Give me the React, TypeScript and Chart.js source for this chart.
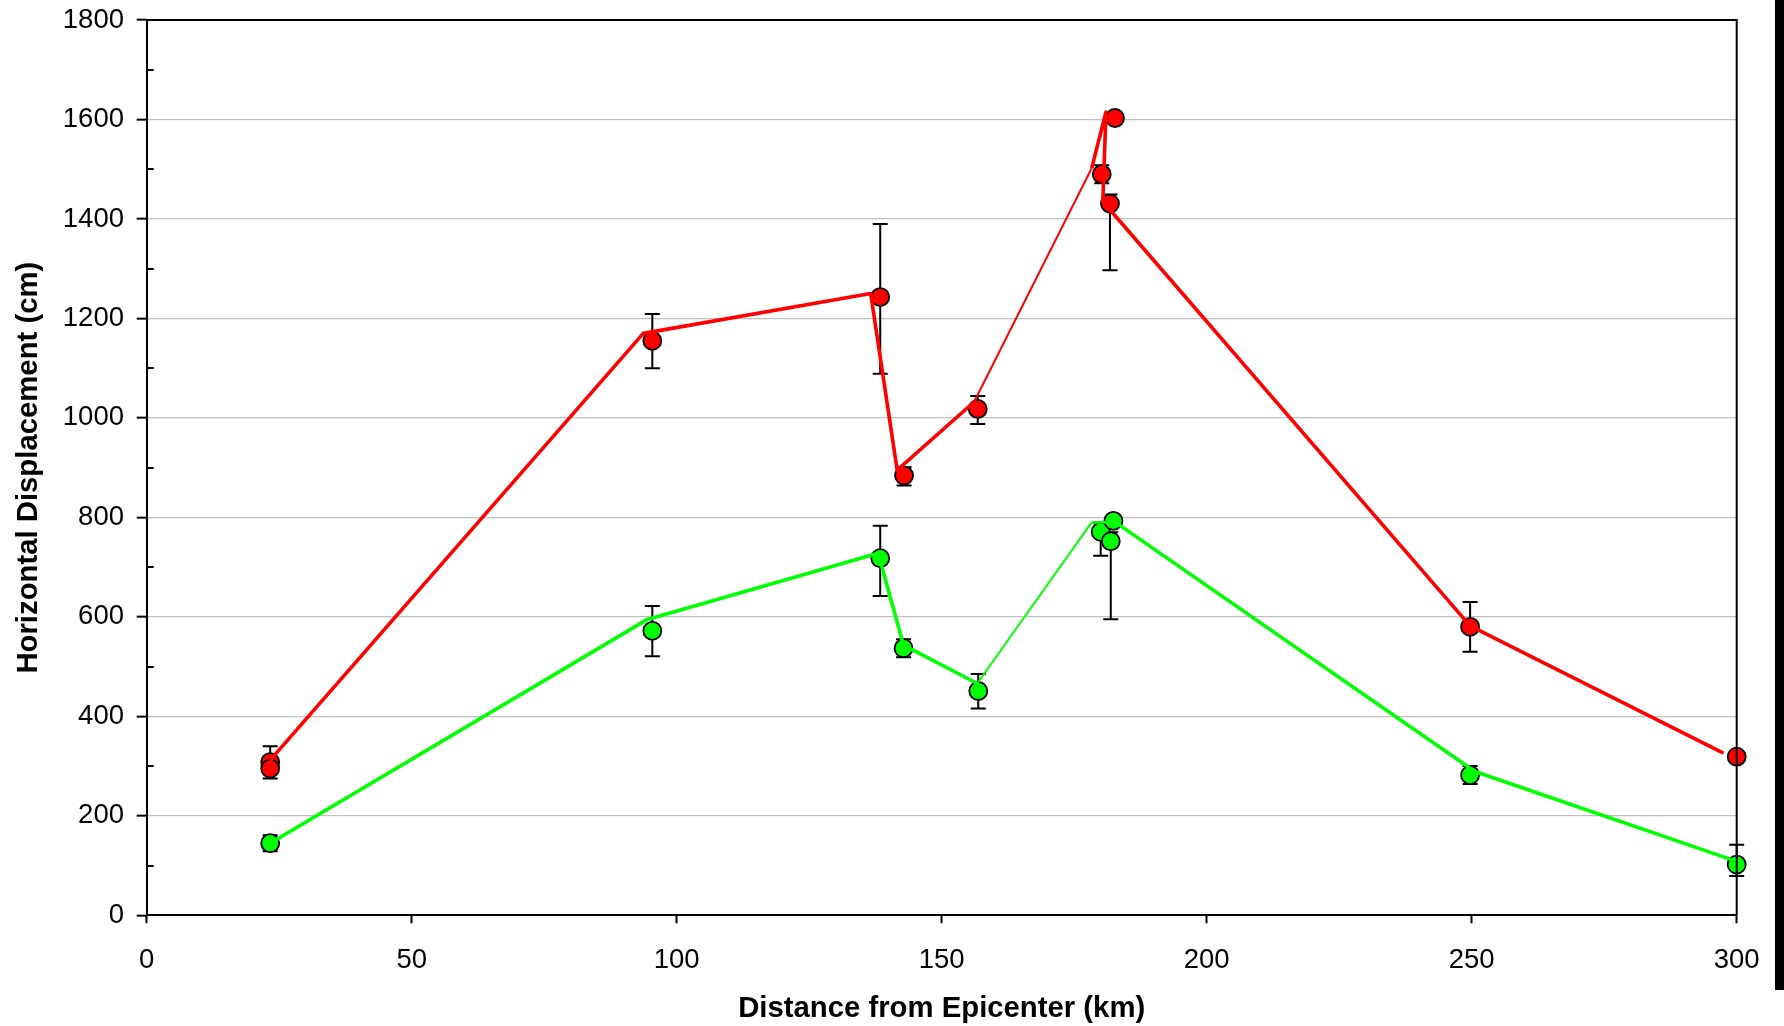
import React, { useEffect, useRef } from "react";
import { Chart, registerables } from "chart.js";

Chart.register(...registerables);

// ---------- data ----------
const xTickValues = [0, 50, 100, 150, 200, 250, 300];
const yTickValues = [0, 200, 400, 600, 800, 1000, 1200, 1400, 1600, 1800];
const yMinorTickValues = [100, 300, 500, 700, 900, 1100, 1300, 1500, 1700];

const xTitle = "Distance from Epicenter (km)";
const yTitle = "Horizontal Displacement (cm)";

// measured points (markers with error bars)
const redPointX = [23.3, 23.3, 95.4, 138.4, 142.9, 156.8, 180.2, 181.75, 182.7, 249.7, 300];
const redPointY = [308, 295, 1155, 1243, 884, 1018, 1490, 1431, 1603, 580, 319];
const redErrPlus = [32, 0, 54, 147, 17, 26, 18, 18, 0, 50, 0];
const redErrMinus = [33, 0, 55, 154, 20, 30, 18, 134, 0, 50, 0];

const greenPointX = [23.3, 95.4, 138.4, 142.8, 156.9, 180.0, 181.9, 182.4, 249.7, 300];
const greenPointY = [145, 572, 718, 537, 451, 771, 752, 793, 282, 102];
const greenErrPlus = [16, 50, 65, 18, 34, 18, 18, 0, 18, 40];
const greenErrMinus = [16, 51, 76, 18, 35, 48, 157, 0, 18, 23];

// connecting lines
const redLineX = [23.3, 93.7, 136.6, 141.6, 156.1, 178.3, 181.0, 180.4, 249.7, 297.5];
const redLineY = [312, 1170, 1250, 895, 1032, 1502, 1615, 1435, 582, 326];
const greenLineX = [23.3, 94.3, 138.0, 142.8, 156.7, 178.3, 182.8, 250.6, 299.3];
const greenLineY = [145, 594, 728, 543, 466, 790, 790, 289, 111];

const RED = "#FF0000";
const GREEN = "#00FF00";
const FONT = "'Liberation Sans', Arial, Helvetica, sans-serif";

const W = 1784;
const H = 1026;
const PLOT_LEFT = 146.7;
const PLOT_RIGHT = 1736.7;
const PLOT_TOP = 20;
const PLOT_BOTTOM = 915.3;

const toXY = (xs: number[], ys: number[]) => xs.map((x, i) => ({ x, y: ys[i] }));

const errorSets = [
  { xs: redPointX, ys: redPointY, plus: redErrPlus, minus: redErrMinus },
  { xs: greenPointX, ys: greenPointY, plus: greenErrPlus, minus: greenErrMinus },
];

const decorPlugin = {
  id: "decor",
  beforeDatasetsDraw(chart: any) {
    const { ctx } = chart;
    const xs = chart.scales.x;
    const ys = chart.scales.y;
    ctx.save();
    ctx.strokeStyle = "#000";
    ctx.lineWidth = 2;
    const cap = 7.5;
    errorSets.forEach((s) => {
      s.xs.forEach((xv, i) => {
        if (s.plus[i] <= 0 && s.minus[i] <= 0) return;
        const px = xs.getPixelForValue(xv);
        const pTop = ys.getPixelForValue(s.ys[i] + s.plus[i]);
        const pBot = ys.getPixelForValue(s.ys[i] - s.minus[i]);
        ctx.beginPath();
        ctx.moveTo(px, pTop);
        ctx.lineTo(px, pBot);
        if (s.plus[i] > 0) {
          ctx.moveTo(px - cap, pTop);
          ctx.lineTo(px + cap, pTop);
        }
        if (s.minus[i] > 0) {
          ctx.moveTo(px - cap, pBot);
          ctx.lineTo(px + cap, pBot);
        }
        ctx.stroke();
      });
    });
    ctx.restore();
  },
  afterDraw(chart: any) {
    const { ctx, chartArea } = chart;
    const ys = chart.scales.y;
    ctx.save();
    // minor ticks (inward)
    ctx.strokeStyle = "#000";
    ctx.lineWidth = 2;
    ctx.beginPath();
    yMinorTickValues.forEach((v) => {
      const py = Math.round(ys.getPixelForValue(v));
      ctx.moveTo(chartArea.left, py);
      ctx.lineTo(chartArea.left + 7, py);
    });
    ctx.stroke();
    // top and right frame
    ctx.beginPath();
    ctx.moveTo(chartArea.left, chartArea.top);
    ctx.lineTo(chartArea.right, chartArea.top);
    ctx.lineTo(chartArea.right, chartArea.bottom);
    ctx.stroke();
    // dark strip at the right edge of the picture
    ctx.fillStyle = "#000";
    ctx.fillRect(1775, 0, W - 1775, 990);
    ctx.restore();
  },
};

export default function App() {
  const canvasRef = useRef<HTMLCanvasElement | null>(null);

  useEffect(() => {
    const canvas = canvasRef.current;
    if (!canvas) return;
    const chart = new Chart(canvas, {
      type: "scatter",
      data: {
        datasets: [
          {
            label: "red line",
            data: toXY(redLineX, redLineY),
            showLine: true,
            borderColor: RED,
            backgroundColor: RED,
            borderWidth: 3.6,
            borderJoinStyle: "round",
            pointRadius: 0,
            pointHoverRadius: 0,
            clip: false,
            order: 0,
            segment: {
              borderWidth: (c: any) => (c.p0DataIndex === 4 ? 2 : 3.6),
            },
          } as any,
          {
            label: "green line",
            data: toXY(greenLineX, greenLineY),
            showLine: true,
            borderColor: GREEN,
            backgroundColor: GREEN,
            borderWidth: 3.6,
            borderJoinStyle: "round",
            pointRadius: 0,
            pointHoverRadius: 0,
            clip: false,
            order: 0,
            segment: {
              borderWidth: (c: any) => (c.p0DataIndex === 4 ? 2 : c.p0DataIndex === 5 ? 2.6 : 3.6),
            },
          } as any,
          {
            label: "red points",
            data: toXY(redPointX, redPointY),
            showLine: false,
            pointRadius: 9,
            pointHoverRadius: 9,
            pointBackgroundColor: RED,
            pointBorderColor: "#000",
            pointBorderWidth: 1.8,
            clip: false,
            order: 1,
          } as any,
          {
            label: "green points",
            data: toXY(greenPointX, greenPointY),
            showLine: false,
            pointRadius: 9,
            pointHoverRadius: 9,
            pointBackgroundColor: GREEN,
            pointBorderColor: "#000",
            pointBorderWidth: 1.8,
            clip: false,
            order: 1,
          } as any,
        ],
      },
      options: {
        responsive: false,
        animation: false,
        events: [],
        layout: {
          padding: { left: 0, top: PLOT_TOP, right: W - PLOT_RIGHT, bottom: 0 },
        },
        plugins: {
          legend: { display: false },
          tooltip: { enabled: false },
        },
        scales: {
          x: {
            type: "linear",
            min: 0,
            max: 300,
            afterFit: (s: any) => {
              s.height = H - PLOT_BOTTOM;
              s.paddingLeft = 0;
              s.paddingRight = 0;
            },
            afterBuildTicks: (s: any) => {
              s.ticks = xTickValues.map((v) => ({ value: v }));
            },
            ticks: {
              autoSkip: false,
              maxRotation: 0,
              color: "#000",
              padding: 21,
              font: { family: FONT, size: 27.5 },
              callback: (v: any) => String(v),
            },
            grid: {
              drawOnChartArea: false,
              drawTicks: true,
              tickLength: 8,
              tickColor: "#000",
              tickWidth: 2,
            },
            border: { display: true, color: "#000", width: 2 },
            title: {
              display: true,
              text: xTitle,
              color: "#000",
              font: { family: FONT, size: 29.3, weight: "bold" },
              padding: { top: 0, bottom: 0 },
            },
          },
          y: {
            type: "linear",
            min: 0,
            max: 1800,
            afterFit: (s: any) => {
              s.width = PLOT_LEFT;
              s.paddingTop = 0;
              s.paddingBottom = 0;
            },
            afterBuildTicks: (s: any) => {
              s.ticks = yTickValues.map((v) => ({ value: v }));
            },
            ticks: {
              autoSkip: false,
              color: "#000",
              padding: 12.7,
              font: { family: FONT, size: 27.5 },
              callback: (v: any) => String(v),
            },
            grid: {
              drawOnChartArea: true,
              drawTicks: true,
              tickLength: 10,
              tickColor: "#000",
              tickWidth: 2,
              lineWidth: 1.3,
              color: (c: any) =>
                c.tick && (c.tick.value === 0 || c.tick.value === 1800) ? "rgba(0,0,0,0)" : "#C0C0C0",
            },
            border: { display: true, color: "#000", width: 2 },
            title: {
              display: true,
              text: yTitle,
              color: "#000",
              font: { family: FONT, size: 29.3, weight: "bold" },
              padding: { top: 11, bottom: 0 },
            },
          },
        },
      },
      plugins: [decorPlugin],
    });
    return () => chart.destroy();
  }, []);

  return (
    <div style={{ position: "fixed", left: 0, top: 0, width: W, height: H, background: "#fff", overflow: "hidden" }}>
      <canvas ref={canvasRef} width={W} height={H} style={{ display: "block", width: W, height: H }} />
    </div>
  );
}
